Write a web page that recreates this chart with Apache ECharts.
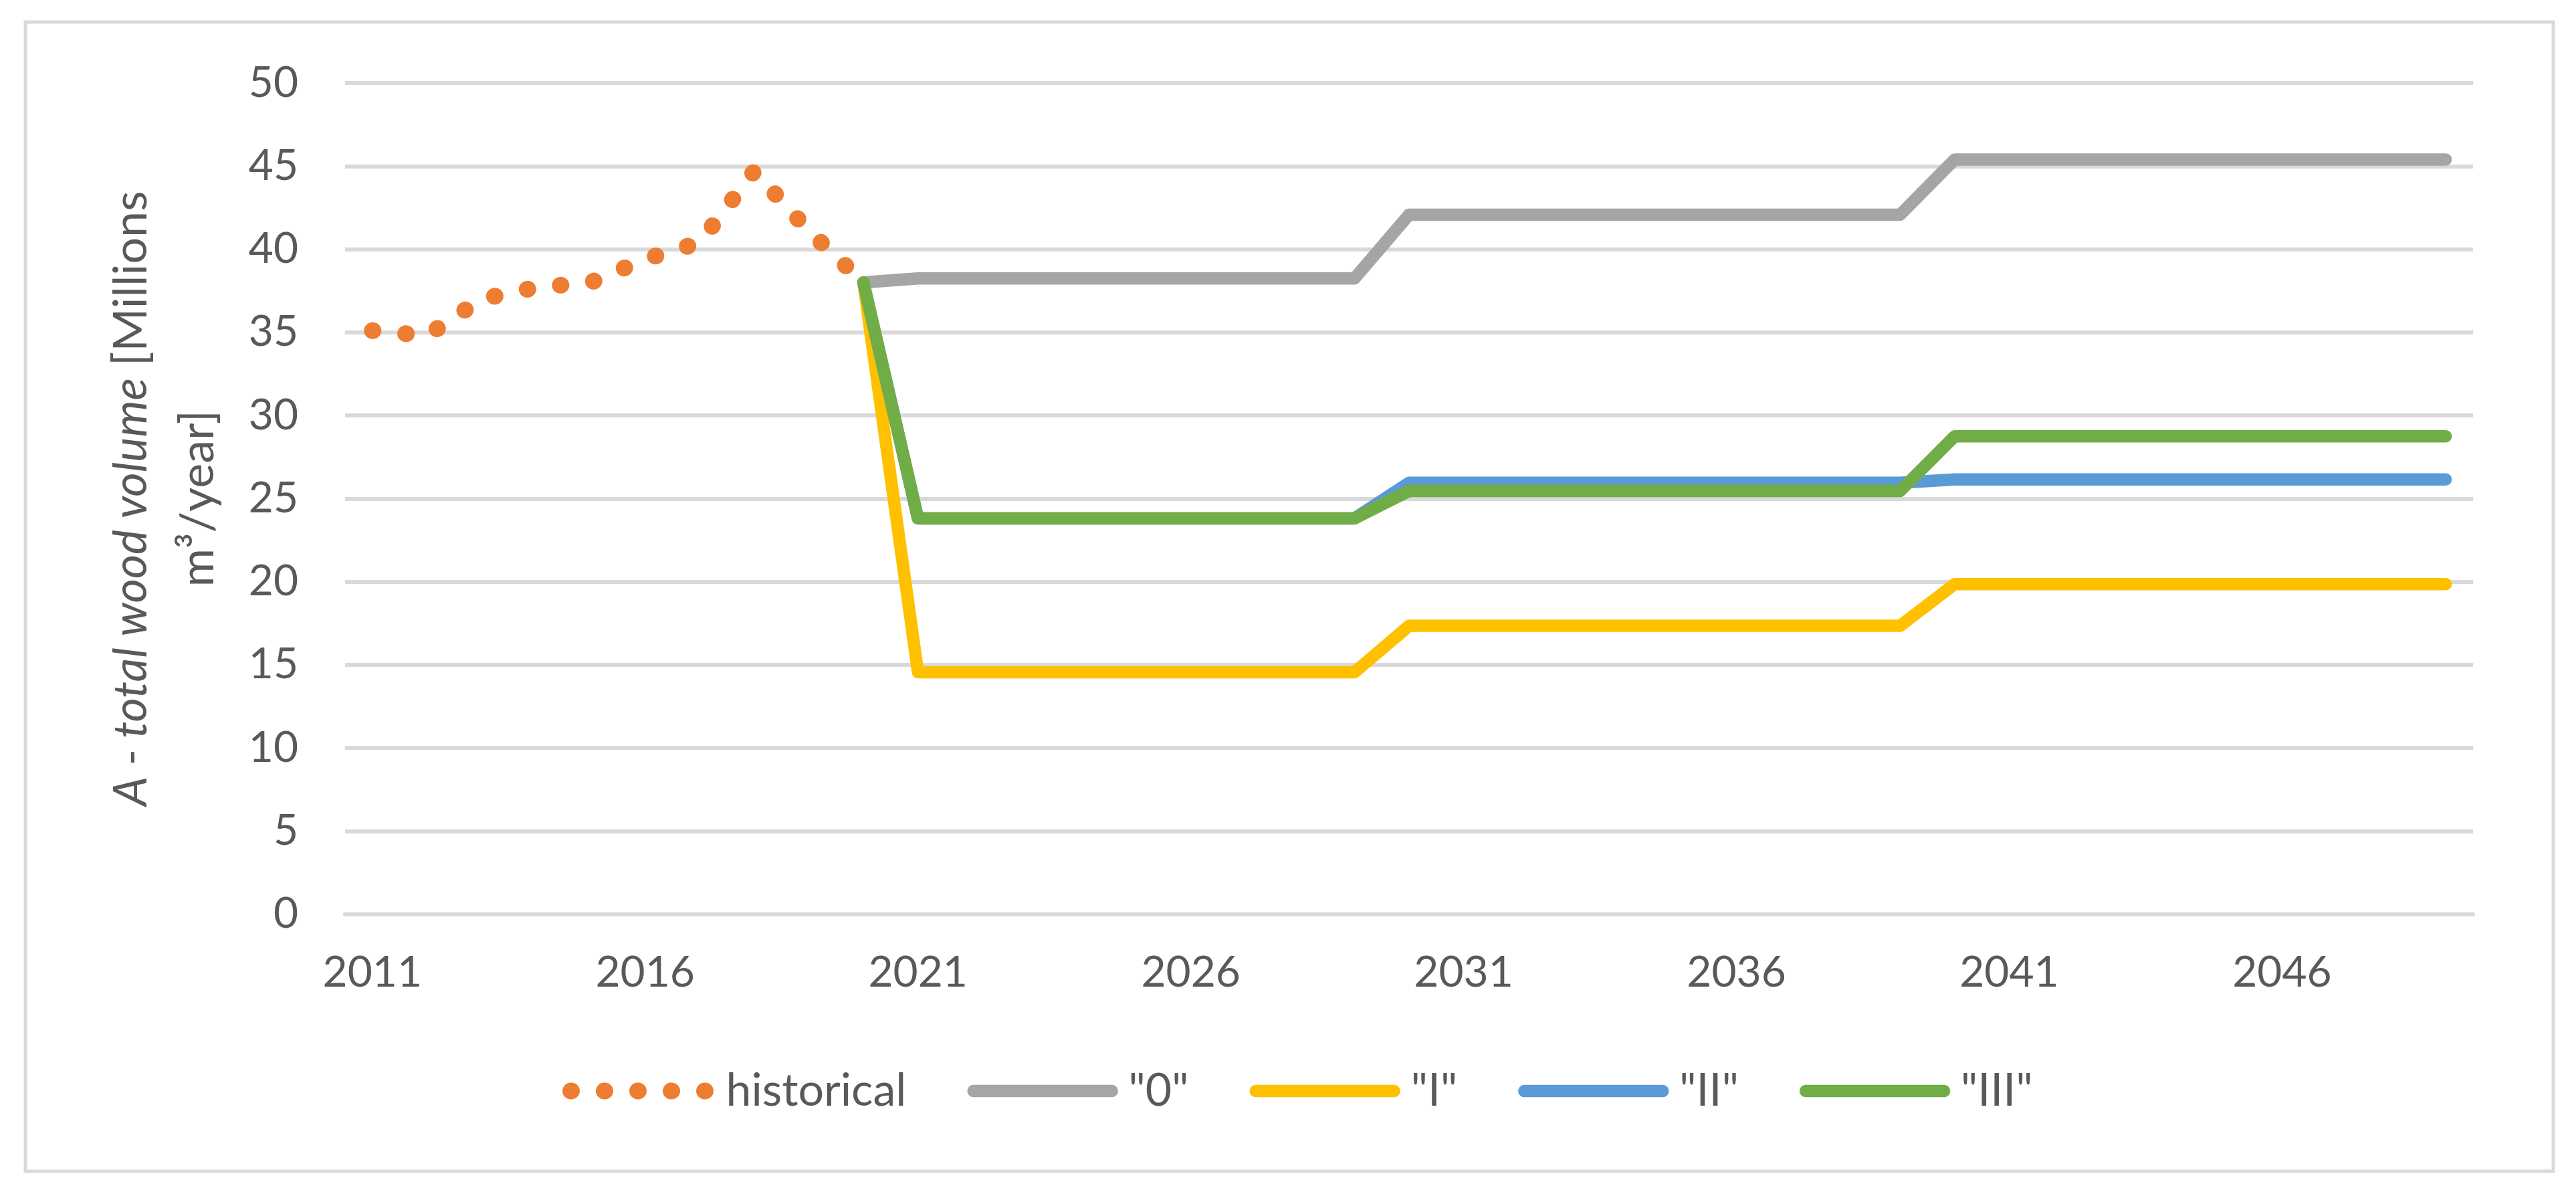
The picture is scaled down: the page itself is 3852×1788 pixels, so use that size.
<!DOCTYPE html>
<html><head><meta charset="utf-8">
<script src="https://cdn.jsdelivr.net/npm/echarts@6/dist/echarts.min.js"></script>
<style>html,body{margin:0;padding:0;background:#fff}#c{width:3852px;height:1788px}</style>
</head><body><div id="c"></div>
<script>
const years = ['2011','2012','2013','2014','2015','2016','2017','2018','2019','2020',
  '2021','2022','2023','2024','2025','2026','2027','2028','2029','2030',
  '2031','2032','2033','2034','2035','2036','2037','2038','2039','2040',
  '2041','2042','2043','2044','2045','2046','2047','2048','2049'];

const historical = [35.1, 34.8, 37.0, 37.7, 38.0, 39.4, 40.4, 44.7, 41.1, 38.0,
  null, null, null, null, null, null, null, null, null, null,
  null, null, null, null, null, null, null, null, null, null,
  null, null, null, null, null, null, null, null, null];

const scen0 = [null, null, null, null, null, null, null, null, null, 38.0,
  38.24, 38.24, 38.24, 38.24, 38.24, 38.24, 38.24, 38.24, 38.24,
  42.07, 42.07, 42.07, 42.07, 42.07, 42.07, 42.07, 42.07, 42.07, 42.07,
  45.39, 45.39, 45.39, 45.39, 45.39, 45.39, 45.39, 45.39, 45.39, 45.39];

const scenI = [null, null, null, null, null, null, null, null, null, 38.0,
  14.55, 14.55, 14.55, 14.55, 14.55, 14.55, 14.55, 14.55, 14.55,
  17.34, 17.34, 17.34, 17.34, 17.34, 17.34, 17.34, 17.34, 17.34, 17.34,
  19.85, 19.85, 19.85, 19.85, 19.85, 19.85, 19.85, 19.85, 19.85, 19.85];

const scenII = [null, null, null, null, null, null, null, null, null, 38.0,
  23.8, 23.8, 23.8, 23.8, 23.8, 23.8, 23.8, 23.8, 23.8,
  25.95, 25.95, 25.95, 25.95, 25.95, 25.95, 25.95, 25.95, 25.95, 25.95,
  26.15, 26.15, 26.15, 26.15, 26.15, 26.15, 26.15, 26.15, 26.15, 26.15];

const scenIII = [null, null, null, null, null, null, null, null, null, 38.0,
  23.8, 23.8, 23.8, 23.8, 23.8, 23.8, 23.8, 23.8, 23.8,
  25.45, 25.45, 25.45, 25.45, 25.45, 25.45, 25.45, 25.45, 25.45, 25.45,
  28.74, 28.74, 28.74, 28.74, 28.74, 28.74, 28.74, 28.74, 28.74, 28.74];

const seriesNames = ['historical', '"0"', '"I"', '"II"', '"III"'];
const yTicks = {min: 0, max: 50, step: 5};

const FONT = 'Lato, "Liberation Sans", sans-serif';
const TXT = '#595959';

const chart = echarts.init(document.getElementById('c'), null, {renderer: 'canvas'});

function solid(name, data, color) {
  return {
    name: name, type: 'line', data: data, symbol: 'none', connectNulls: false,
    lineStyle: {color: color, width: 18.5, cap: 'round', join: 'round'},
    itemStyle: {color: color}
  };
}

chart.setOption({
  animation: false,
  backgroundColor: '#ffffff',
  graphic: [{
    type: 'rect', silent: true, z: -10,
    shape: {x: 38, y: 33, width: 3780, height: 1718},
    style: {fill: 'none', stroke: '#d9d9d9', lineWidth: 5}
  }],
  grid: {left: 516, right: 154, top: 124, bottom: 421.5, containLabel: false},
  xAxis: {
    type: 'category', data: years, boundaryGap: true,
    axisTick: {show: false},
    axisLine: {lineStyle: {color: '#d9d9d9', width: 6}},
    axisLabel: {interval: 4, color: TXT, fontSize: 64, fontFamily: FONT, margin: 56}
  },
  yAxis: {
    type: 'value', min: yTicks.min, max: yTicks.max, interval: yTicks.step,
    axisLine: {show: false}, axisTick: {show: false},
    splitLine: {lineStyle: {color: '#d9d9d9', width: 6}},
    axisLabel: {color: TXT, fontSize: 64, fontFamily: FONT, margin: 70},
    name: '{it|A - total wood volume} {n|[Millions}\n{n|m³/year]}',
    nameLocation: 'middle', nameRotate: 90, nameGap: 170,
    nameTextStyle: {
      color: TXT, fontSize: 70, fontFamily: FONT, lineHeight: 100,
      rich: {
        it: {fontStyle: 'italic', fontSize: 70, fontFamily: FONT, color: TXT, lineHeight: 100},
        n: {fontSize: 70, fontFamily: FONT, color: TXT, lineHeight: 100}
      }
    }
  },
  legend: {
    data: seriesNames, left: 836, top: 1592,
    itemWidth: 207, itemHeight: 26, itemGap: 91,
    itemStyle: {opacity: 0},
    lineStyle: {width: 'inherit', type: 'inherit', cap: 'inherit', join: 'inherit', color: 'inherit'},
    textStyle: {color: TXT, fontSize: 68, fontFamily: FONT, padding: [0, 0, 0, 20]}
  },
  series: [
    {
      name: seriesNames[0], type: 'line', data: historical, symbol: 'none',
      lineStyle: {color: '#ED7D31', width: 25, type: [1, 49], cap: 'round', join: 'round'},
      itemStyle: {color: '#ED7D31'}
    },
    solid(seriesNames[1], scen0, '#A5A5A5'),
    solid(seriesNames[2], scenI, '#FFC000'),
    solid(seriesNames[3], scenII, '#5B9BD5'),
    solid(seriesNames[4], scenIII, '#70AD47')
  ]
});
</script></body></html>
